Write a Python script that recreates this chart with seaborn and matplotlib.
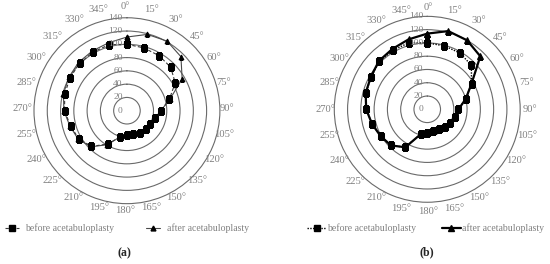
import numpy as np
import matplotlib
matplotlib.use('Agg')
import matplotlib.pyplot as plt
import seaborn as sns
from matplotlib.lines import Line2D

sns.set_style('white')
plt.rcParams['font.family'] = ['Liberation Serif', 'DejaVu Serif']

# angles of the radar axes (degrees, clockwise from top)
angles = list(range(0, 360, 15))
rings = [0, 20, 40, 60, 80, 100, 120, 140]

# (a) values
a_before = [100, 98, 96, 93, 84, 66, 51, 44, 40, 40, 38, 37,
            37, 41, 58, 76, 84, 88, 94, 97, 99, 101, 102, 103]
a_after = [111, 119, 121, 115, 96, 67, 51, 44, 40, 40, 38, 37,
           37, 41, 59, 77, 85, 89, 95, 99, 101, 103, 104, 106]

# (b) values
b_before = [100, 99, 98, 94, 77, 60, 47, 44, 40, 37, 35, 34.5,
            35.5, 39, 66, 77, 81, 86, 91.5, 95.5, 97.5, 102, 103, 104]
b_after = [114, 122, 120, 113, 77, 60, 47, 44, 40, 37, 35, 34.5,
           35.5, 39, 66, 77, 81, 86, 92, 96, 98, 103, 105, 109]

GRID = '#6a6a6a'
TXT = '#808080'


def radar(ax, vals, **kw):
    theta = np.deg2rad(angles + [360])
    r = np.append(vals, vals[0])
    sns.lineplot(x=theta, y=r, sort=False, estimator=None, ax=ax, **kw)


def setup(ax, dx=0.0, dy=0.0):
    ax.set_theta_zero_location('N')
    ax.set_theta_direction(-1)
    ax.set_ylim(0, 140)
    ax.set_xticks(np.deg2rad(angles))
    ax.set_xticklabels([])
    ax.xaxis.grid(False)
    ax.set_rgrids([20, 40, 60, 80, 100, 120])
    ax.yaxis.grid(True, color=GRID, lw=0.8)
    ax.set_yticklabels([])
    ax.spines['polar'].set_color(GRID)
    ax.spines['polar'].set_linewidth(0.8)
    ax.set_xlabel('')
    ax.set_ylabel('')
    # angle labels around the outer ring
    for a in angles:
        t = np.deg2rad(a)
        ax.text(0.5 + dx + 0.55 * np.sin(t), 0.5 + dy + 0.55 * np.cos(t), f'{a}°',
                transform=ax.transAxes, ha='center', va='center',
                fontsize=7.6, color=TXT, clip_on=False)
    # ring value labels left of the vertical axis
    for v in rings:
        ax.annotate(str(v), xy=(0, v), xytext=(-3, 0), textcoords='offset points',
                    ha='right', va='center', fontsize=6.8, color=TXT)


fig = plt.figure(figsize=(5.5, 2.64), dpi=100)

# (a)
ax1 = fig.add_axes([0.0618, 0.2284, 0.338, 0.7045], projection='polar')
radar(ax1, a_after, color='#4a4a4a', lw=0.8, marker='^', markersize=3.5,
      markeredgecolor='black', markerfacecolor='black')
radar(ax1, a_before, color='#3a3a3a', lw=0.8, linestyle=(0, (3, 2)), marker='s',
      markersize=4.2, markeredgecolor='black', markerfacecolor='black')
setup(ax1, dx=-0.01, dy=0.012)

# (b)
ax2 = fig.add_axes([0.6078, 0.2337, 0.338, 0.7045], projection='polar')
radar(ax2, b_before, color='black', lw=1.0, linestyle=(0, (1, 1)), marker='s',
      markersize=4.2, markeredgecolor='black', markerfacecolor='black')
radar(ax2, b_after, color='black', lw=1.6, marker='^', markersize=4,
      markeredgecolor='black', markerfacecolor='black')
setup(ax2, dx=0.004, dy=0.0)

for ax in (ax1, ax2):
    if ax.get_legend() is not None:
        ax.get_legend().remove()

h_a = [Line2D([], [], color='#3a3a3a', lw=0.8, linestyle=(0, (3, 2)), marker='s',
              markersize=4.2, markerfacecolor='black', markeredgecolor='black'),
       Line2D([], [], color='#4a4a4a', lw=0.8, marker='^', markersize=3.5,
              markerfacecolor='black', markeredgecolor='black')]
h_b = [Line2D([], [], color='black', lw=1.0, linestyle=(0, (1, 1)), marker='s',
              markersize=4.2, markerfacecolor='black', markeredgecolor='black'),
       Line2D([], [], color='black', lw=1.6, marker='^', markersize=4,
              markerfacecolor='black', markeredgecolor='black')]
labels = ['before acetabuloplasty', 'after acetabuloplasty']

leg_a = fig.legend(h_a, labels, loc='center left', bbox_to_anchor=(0.009, 0.136),
                   ncol=2, frameon=False, fontsize=7, handlelength=1.4,
                   handletextpad=0.7, columnspacing=3.3, borderpad=0, borderaxespad=0)
leg_b = fig.legend(h_b, labels, loc='center left', bbox_to_anchor=(0.558, 0.136),
                   ncol=2, frameon=False, fontsize=7, handlelength=2.0,
                   handletextpad=0.1, columnspacing=2.6, borderpad=0, borderaxespad=0)
for leg in (leg_a, leg_b):
    for t in leg.get_texts():
        t.set_color(TXT)

fig.text(0.2255, 0.042, '(a)', ha='center', va='center', fontsize=8.5, fontweight='bold')
fig.text(0.776, 0.045, '(b)', ha='center', va='center', fontsize=8.5, fontweight='bold')

fig.savefig('out.png', dpi=100)
